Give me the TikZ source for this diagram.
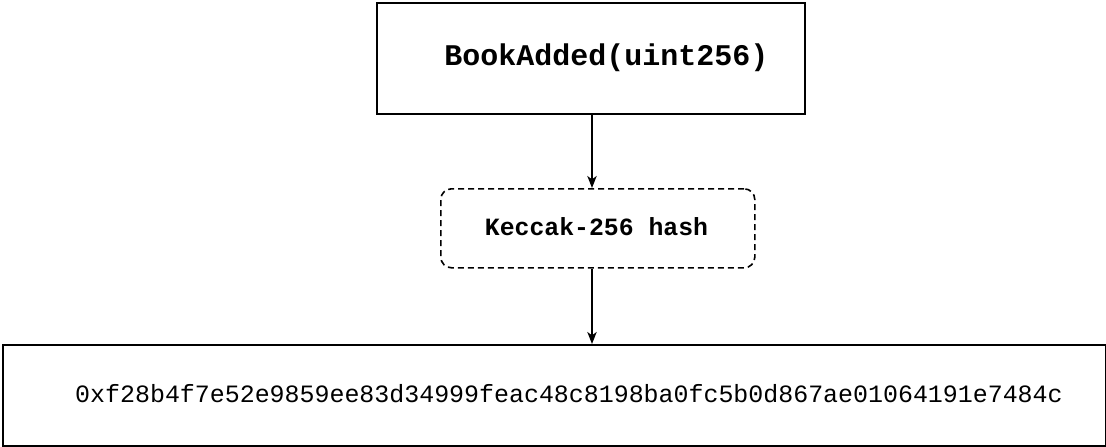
\documentclass[tikz,border=0pt]{standalone}
\usepackage{fontspec}
\setmonofont{Liberation Mono}
\usetikzlibrary{arrows.meta}
\begin{document}
\begin{tikzpicture}[x=0.75pt,y=-0.75pt,
  box/.style={draw=black,line width=1.2pt,inner sep=0pt,anchor=north west},
  hashbox/.style={draw=black,line width=1.2pt,dashed,dash pattern=on 4.5pt off 3pt,rounded corners=8pt,inner sep=0pt,anchor=north west},
  lbl/.style={inner sep=0pt,font=\ttfamily},
  conn/.style={line width=1.2pt,-{Stealth[length=9pt,width=7pt,inset=2.5pt]}}]
\useasboundingbox (0,0) rectangle (1106,446);
\node[box,minimum width=428*0.75pt,minimum height=111*0.75pt] (top) at (376,2) {};
\node[hashbox,minimum width=314*0.75pt,minimum height=79*0.75pt] (mid) at (440,188) {};
\node[box,minimum width=1103*0.75pt,minimum height=101*0.75pt] (bot) at (2,344) {};
\node[lbl,font=\ttfamily\bfseries\fontsize{22.5pt}{26pt}\selectfont] (t1) at (606.5,58) {BookAdded(uint256)};
\node[lbl,font=\ttfamily\bfseries\fontsize{18.6pt}{22pt}\selectfont] (t2) at (596.5,227) {Keccak-256 hash};
\node[lbl,font=\ttfamily\fontsize{18.7pt}{22pt}\selectfont] (t3) at (569,394) {0xf28b4f7e52e9859ee83d34999feac48c8198ba0fc5b0d867ae01064191e7484c};
\draw[conn] ([xshift=0.9pt]top.south) -- ([xshift=0.9pt]top.south |- mid.north);
\draw[conn] ([xshift=0.9pt]top.south |- mid.south) -- ([xshift=0.9pt]top.south |- bot.north);
\end{tikzpicture}
\end{document}
